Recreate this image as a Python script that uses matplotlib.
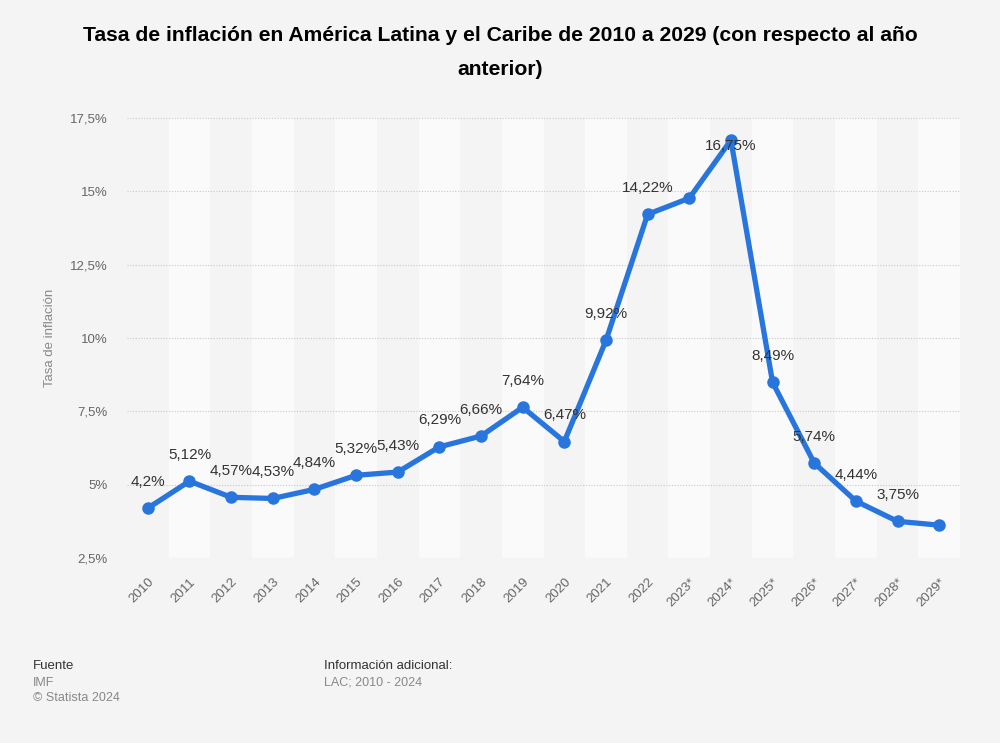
import matplotlib.pyplot as plt
import numpy as np

years = ['2010', '2011', '2012', '2013', '2014', '2015', '2016', '2017', '2018', '2019',
         '2020', '2021', '2022', '2023*', '2024*', '2025*', '2026*', '2027*', '2028*', '2029*']
inflation = [4.2, 5.12, 4.57, 4.53, 4.84, 5.32, 5.43, 6.29, 6.66, 7.64,
             6.47, 9.92, 14.22, 14.77, 16.75, 8.49, 5.74, 4.44, 3.75, 3.62]
point_labels = ['4,2%', '5,12%', '4,57%', '4,53%', '4,84%', '5,32%', '5,43%', '6,29%', '6,66%', '7,64%',
                '6,47%', '9,92%', '14,22%', '', '16,75%', '8,49%', '5,74%', '4,44%', '3,75%', '']
yticks = [2.5, 5, 7.5, 10, 12.5, 15, 17.5]
ytick_labels = ['2,5%', '5%', '7,5%', '10%', '12,5%', '15%', '17,5%']

plt.rcParams['font.family'] = ['Liberation Sans', 'DejaVu Sans']

fig = plt.figure(figsize=(10, 7.43), dpi=100, facecolor='#f4f4f4')
ax = fig.add_axes([0.127, 0.249, 0.833, 0.592])
ax.set_facecolor('#f4f4f4')

x = np.arange(len(years))
# alternating column bands
for i in x:
    if i % 2 == 1:
        ax.axvspan(i - 0.5, i + 0.5, color='#fafafa', zorder=0, lw=0)

for t in yticks:
    ax.axhline(t, color='#c8c8c8', lw=0.8, ls=(0, (1, 1.5)), zorder=1)

ax.plot(x, inflation, color='#2876dd', lw=3.8, marker='o', ms=8, zorder=3,
        solid_capstyle='round', solid_joinstyle='round')

for xi, v, lab in zip(x, inflation, point_labels):
    if not lab:
        continue
    # label too close to the top gets pushed down onto the point
    dy = 14 if v < 16 else -4
    ax.annotate(lab, (xi, v), xytext=(0, dy), textcoords='offset points',
                ha='center', va='bottom' if dy > 0 else 'center',
                fontsize=11, color='#333333', zorder=4)

ax.set_xlim(-0.5, len(years) - 0.5)
ax.set_ylim(2.5, 17.5)
ax.set_yticks(yticks)
ax.set_yticklabels(ytick_labels)
ax.set_xticks(x)
ax.set_xticklabels(years, rotation=45, ha='right', rotation_mode='anchor')
ax.tick_params(axis='both', length=0, labelsize=9.5, colors='#666666')
ax.tick_params(axis='y', pad=14)
ax.tick_params(axis='x', pad=13)
for s in ax.spines.values():
    s.set_visible(False)

ax.set_ylabel('Tasa de inflación', color='#888888', fontsize=9.5, labelpad=10)

fig.text(0.5, 0.952, 'Tasa de inflación en América Latina y el Caribe de 2010 a 2029 (con respecto al año',
         ha='center', va='center', fontsize=15.2, fontweight='bold', color='#000000')
fig.text(0.5, 0.907, 'anterior)', ha='center', va='center', fontsize=15.2, fontweight='bold', color='#000000')

fig.text(0.033, 0.104, 'Fuente', fontsize=9.5, color='#333333', va='center')
fig.text(0.033, 0.081, 'IMF', fontsize=9, color='#888888', va='center')
fig.text(0.033, 0.060, '© Statista 2024', fontsize=9, color='#888888', va='center')
fig.text(0.324, 0.104, 'Información adicional:', fontsize=9.5, color='#333333', va='center')
fig.text(0.324, 0.081, 'LAC; 2010 - 2024', fontsize=9, color='#888888', va='center')

fig.savefig('out.png', dpi=100, facecolor=fig.get_facecolor())
